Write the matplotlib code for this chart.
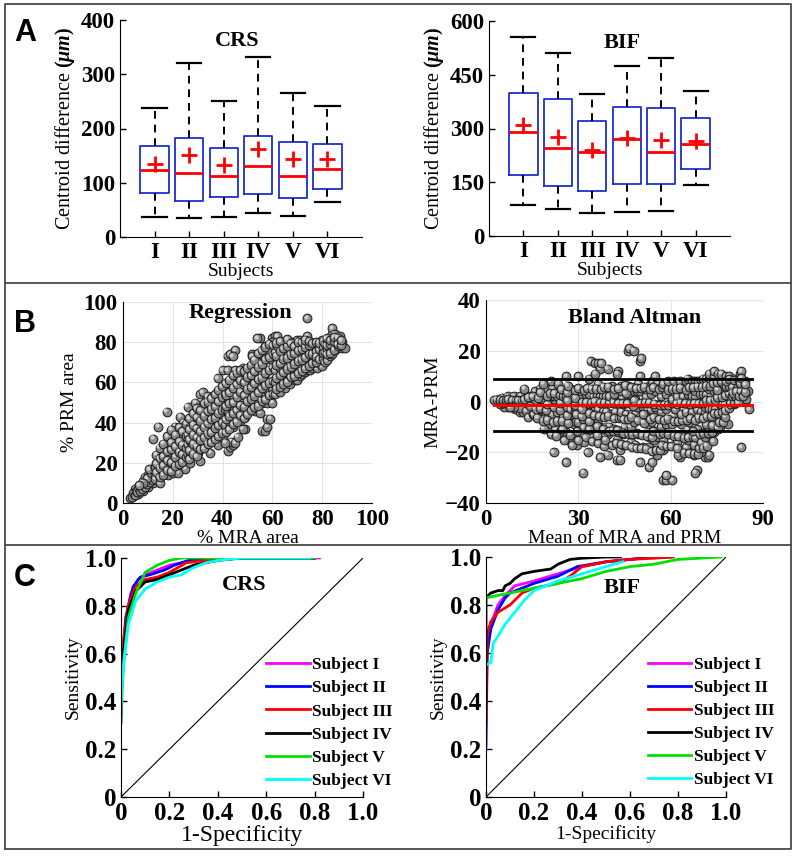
import numpy as np
import matplotlib
matplotlib.use("Agg")
import matplotlib.pyplot as plt
from matplotlib.lines import Line2D
from matplotlib.transforms import offset_copy

plt.rcParams["font.family"] = "serif"
plt.rcParams["font.serif"] = ["Liberation Serif"]
plt.rcParams["mathtext.fontset"] = "custom"
plt.rcParams["mathtext.it"] = "Liberation Serif:italic:bold"
plt.rcParams["mathtext.rm"] = "Liberation Serif:bold"

# ---- panel A: centroid difference box plots ----
subjects = ["I", "II", "III", "IV", "V", "VI"]
crs_whislo = [37, 35, 36, 44, 38, 65]
crs_q1 = [81, 67, 73, 79, 71, 89]
crs_med = [123, 118, 112, 130, 113, 126]
crs_q3 = [167, 182, 164, 186, 175, 171]
crs_whishi = [238, 321, 250, 332, 266, 241]
crs_mean = [135, 152, 133, 162, 143, 143]

bif_whislo = [86, 76, 65, 66, 69, 141]
bif_q1 = [170, 140, 126, 145, 144, 186]
bif_med = [290, 245, 235, 270, 235, 256]
bif_q3 = [399, 383, 322, 361, 358, 328]
bif_whishi = [554, 511, 396, 474, 497, 404]
bif_mean = [309, 277, 240, 274, 268, 266]

# ---- panel B: % MRA area vs % PRM area (one pair per vessel slice) ----
mra_prm_pairs = [
    (3.5, 3), (4, 4), (4, 3.5), (4.5, 5), (5, 4), (5, 6), (5.5, 5), (6, 6), (6, 5),
    (6.5, 7), (7, 7), (7, 6), (7.5, 8), (8, 8), (8, 7), (8.5, 9), (9, 10), (9, 8),
    (9.5, 9), (10, 11), (10, 9), (10.5, 12), (11, 11), (11, 10), (11.5, 13), (12, 12),
    (12, 11), (12.5, 14), (6, 8), (8, 11), (9, 13), (10, 14), (11, 16), (7, 9), (5, 7),
    (12, 16), (3, 2.5), (4, 5), (6, 4.5), (8, 6), (10, 8), (12, 10),
    (3.8, 3.1), (4.3, 4.6), (4.9, 4.2), (5.2, 5.8), (5.8, 5.3), (6.3, 6.9), (6.8, 6.1),
    (7.3, 7.8), (7.7, 6.9), (8.2, 9.1), (8.7, 8.2), (9.2, 10.6), (9.8, 9.4), (10.3, 11.5),
    (10.8, 10.2), (11.3, 12.7), (11.8, 11.4), (12.3, 13.6), (9.6, 12.3), (11.1, 14.8),
    (7.9, 10.1), (10.6, 16.8), (12.8, 17.9), (6.6, 8.9),
    (12, 32), (13, 14), (13, 18), (13, 12), (14, 15), (14, 20), (14, 38), (15, 13),
    (15, 17), (15, 22), (16, 16), (16, 19), (16, 25), (17, 15), (17, 20), (17, 28),
    (17.5, 45.5), (18, 17), (18, 22), (18, 30), (19, 18), (19, 24), (19, 34), (20, 17),
    (20, 21), (20, 27), (20, 32), (21, 19), (21, 25), (21, 30), (21, 38), (22, 20),
    (22, 23), (22, 28), (22, 35), (23, 21), (23, 26), (23, 31), (23, 43), (24, 22),
    (24, 27), (24, 33), (24, 40), (25, 21), (25, 25), (25, 30), (25, 37), (15, 10),
    (18, 14), (20, 15), (22, 17), (24, 19), (25, 17), (22, 15),
    (13.4, 15.2), (13.4, 19.8), (13.4, 24.1), (14.7, 12.9), (14.7, 17.6), (14.7, 22.3),
    (14.7, 27.5), (16.2, 14.1), (16.2, 18.8), (16.2, 23.4), (16.2, 29.6), (17.8, 16.3),
    (17.8, 21.2), (17.8, 25.9), (17.8, 33.1), (19.3, 15.7), (19.3, 20.4), (19.3, 26.8),
    (19.3, 30.2), (19.3, 36.5), (20.9, 18.6), (20.9, 23.1), (20.9, 28.4), (20.9, 34.0),
    (22.4, 19.2), (22.4, 25.6), (22.4, 30.8), (22.4, 37.7), (23.8, 20.5), (23.8, 24.3),
    (23.8, 29.1), (23.8, 35.6), (25.3, 22.8), (25.3, 27.4), (25.3, 33.2), (25.3, 39.4),
    (26, 24), (26, 29), (26, 34), (26, 48), (27, 25), (27, 31), (27, 38), (27, 20),
    (28, 26), (28, 30), (28, 35), (28, 42), (29, 27), (29, 33), (29, 39), (29, 50),
    (30, 25), (30, 29), (30, 34), (30, 40), (30, 45), (31, 21), (31, 28), (31, 33),
    (31, 38), (31, 54), (32, 30), (32, 36), (32, 42), (32, 55), (33, 29), (33, 34),
    (33, 40), (33, 46), (34, 31), (34, 37), (34, 44), (34, 53), (35, 25), (35, 32),
    (35, 38), (35, 45), (35, 50), (36, 34), (36, 40), (36, 47), (36, 53), (37, 35),
    (37, 41), (37, 49), (38, 29), (38, 36), (38, 43), (38, 51), (38, 62), (39, 37),
    (39, 45), (39, 55), (40, 33), (40, 38), (40, 44), (40, 50), (40, 57), (40, 66),
    (26.7, 21.9), (26.7, 26.2), (26.7, 31.7), (26.7, 36.8), (26.7, 42.3), (28.2, 24.6),
    (28.2, 29.5), (28.2, 33.9), (28.2, 39.0), (28.2, 44.6), (29.6, 23.4), (29.6, 28.1),
    (29.6, 32.6), (29.6, 37.3), (29.6, 42.8), (29.6, 47.2), (31.1, 26.7), (31.1, 31.4),
    (31.1, 35.8), (31.1, 40.9), (31.1, 46.1), (32.5, 27.3), (32.5, 32.8), (32.5, 37.9),
    (32.5, 43.5), (32.5, 49.6), (34.0, 29.6), (34.0, 34.5), (34.0, 39.7), (34.0, 45.8),
    (34.0, 50.4), (35.4, 30.1), (35.4, 35.2), (35.4, 41.6), (35.4, 46.9), (35.4, 52.2),
    (36.9, 31.8), (36.9, 37.4), (36.9, 42.5), (36.9, 48.3), (36.9, 54.0), (38.3, 33.2),
    (38.3, 38.7), (38.3, 44.9), (38.3, 50.6), (38.3, 56.3), (39.8, 34.9), (39.8, 40.2),
    (39.8, 46.4), (39.8, 52.8), (39.8, 58.1),
    (42, 26), (43, 28), (44, 29), (43.5, 30.5), (49, 37), (45, 30), (46, 33), (48, 37),
    (41, 30), (56, 36), (57, 36), (58, 38), (58, 42), (59, 42),
    (42, 73), (43, 74), (45, 76), (44, 73), (42, 66), (52, 74), (55, 82), (54, 82),
    (60, 82), (61, 83), (62, 83), (74, 92),
    (41, 39), (41, 47), (41, 54), (42, 41.5), (42, 46), (42, 52), (42, 60), (43, 40),
    (43, 48), (43, 56), (44, 38), (44, 45), (44, 52), (44, 62), (45, 43.5), (45, 50),
    (45, 58), (45, 66), (46, 42), (46, 51), (46, 60), (47, 41), (47, 46), (47, 53),
    (47, 62), (48, 45), (48, 50), (48, 57), (48, 67), (49, 43), (49, 48), (49, 55),
    (49, 63), (50, 46), (50, 52), (50, 58), (50, 65), (51, 47), (51, 54), (51, 61),
    (52, 48), (52, 55), (52, 62), (52, 73), (53, 46), (53, 51), (53, 58), (53, 66),
    (54, 49), (54, 56), (54, 63), (54, 70), (55, 45), (55, 52), (55, 59), (55, 68),
    (56, 50), (56, 57), (56, 65), (56, 74), (57, 53), (57, 60), (57, 70), (57, 78),
    (58, 50), (58, 56), (58, 64), (58, 73), (59, 52), (59, 60), (59, 68), (59, 76),
    (60, 50), (60, 57), (60, 63), (60, 71), (60, 80),
    (41.2, 35.3), (41.2, 41.7), (41.2, 48.2), (41.2, 53.9), (41.2, 59.5), (42.7, 36.8),
    (42.7, 43.4), (42.7, 49.6), (42.7, 55.2), (42.7, 61.3), (44.1, 39.2), (44.1, 44.7),
    (44.1, 50.1), (44.1, 57.4), (44.1, 63.6), (45.6, 40.4), (45.6, 46.3), (45.6, 52.9),
    (45.6, 59.0), (45.6, 64.8), (47.0, 43.8), (47.0, 48.7), (47.0, 55.4), (47.0, 61.1),
    (47.0, 66.2), (48.5, 42.1), (48.5, 47.9), (48.5, 53.6), (48.5, 60.2), (48.5, 65.7),
    (49.9, 44.3), (49.9, 50.6), (49.9, 56.8), (49.9, 62.9), (49.9, 67.4), (51.4, 46.2),
    (51.4, 51.8), (51.4, 57.5), (51.4, 63.7), (51.4, 68.9), (52.8, 47.6), (52.8, 53.3),
    (52.8, 59.7), (52.8, 65.5), (52.8, 71.2), (54.3, 48.4), (54.3, 55.1), (54.3, 61.6),
    (54.3, 67.8), (54.3, 74.5), (55.7, 50.9), (55.7, 57.2), (55.7, 62.4), (55.7, 69.3),
    (55.7, 76.1), (57.2, 51.6), (57.2, 58.5), (57.2, 64.9), (57.2, 71.4), (57.2, 77.8),
    (58.6, 53.7), (58.6, 59.8), (58.6, 66.3), (58.6, 72.6), (58.6, 79.2), (60.1, 54.2),
    (60.1, 60.7), (60.1, 67.5), (60.1, 74.1), (60.1, 78.6),
    (61, 54), (61, 60), (61, 66), (61, 75), (62, 56.5), (62, 62), (62, 70), (62, 78),
    (63, 55), (63, 61), (63, 67), (63, 74), (64, 58.5), (64, 64), (64, 70), (64, 78),
    (65, 57), (65, 63), (65, 69), (65, 77), (66, 60.5), (66, 65), (66, 72), (66, 79),
    (67, 59), (67, 64), (67, 70), (67, 76), (68, 62.5), (68, 66), (68, 72), (68, 80),
    (69, 61), (69, 67), (69, 73), (70, 61), (70, 66), (70, 72), (70, 78), (70, 81),
    (71, 63), (71, 68), (71, 74), (71, 81), (72, 64), (72, 69), (72, 75), (73, 65),
    (73, 70), (73, 76), (74, 66), (74, 72), (74, 78), (74, 83), (75, 66), (75, 70),
    (75, 75), (76, 67), (76, 72), (76, 77), (77, 68), (77, 73), (77, 78), (78, 67),
    (78, 71), (78, 76), (79, 69), (79, 74), (79, 80), (80, 68), (80, 72), (80, 77),
    (80, 81),
    (61.5, 56.8), (61.5, 62.3), (61.5, 68.9), (61.5, 73.2), (61.5, 79.7), (63.0, 57.9),
    (63.0, 63.5), (63.0, 69.6), (63.0, 75.8), (63.0, 80.4), (64.4, 59.3), (64.4, 65.1),
    (64.4, 71.7), (64.4, 76.9), (65.9, 60.4), (65.9, 66.8), (65.9, 72.3), (65.9, 78.2),
    (65.9, 81.6), (67.3, 62.7), (67.3, 67.9), (67.3, 73.8), (67.3, 79.5), (68.8, 63.1),
    (68.8, 69.4), (68.8, 74.6), (68.8, 78.1), (70.2, 64.6), (70.2, 70.8), (70.2, 75.9),
    (70.2, 80.3), (71.7, 65.8), (71.7, 71.2), (71.7, 76.4), (71.7, 79.9), (73.1, 67.2),
    (73.1, 72.6), (73.1, 77.7), (73.1, 81.2), (74.6, 68.4), (74.6, 73.9), (74.6, 78.8),
    (74.6, 80.6), (76.0, 69.7), (76.0, 74.3), (76.0, 79.4), (77.5, 70.2), (77.5, 75.6),
    (77.5, 80.1), (77.5, 72.8), (78.9, 71.4), (78.9, 76.5), (78.9, 79.8), (80.4, 72.3),
    (80.4, 77.2), (80.4, 80.8), (80.4, 74.6),
    (81, 70), (81, 75), (81, 79), (82, 71), (82, 76), (82, 80), (83, 73), (83, 77),
    (83, 82), (84, 74), (84, 79), (84, 84), (84, 87), (85, 76), (85, 80), (85, 84),
    (86, 77), (86, 81), (87, 78), (87, 83), (88, 77), (88, 80), (89, 77),
    (81.8, 73.9), (81.8, 78.4), (81.8, 82.1), (83.3, 74.5), (83.3, 79.3), (83.3, 81.0),
    (84.7, 76.2), (84.7, 80.7), (84.7, 82.6), (86.2, 77.9), (86.2, 82.3), (86.2, 79.1),
    (87.6, 78.4), (87.6, 80.9),
]
mra_area = np.array([p[0] for p in mra_prm_pairs])
prm_area = np.array([p[1] for p in mra_prm_pairs])
ba_mean = (mra_area + prm_area) / 2
ba_diff = mra_area - prm_area
mean_bias = -1.5
upper_loa = 8.8
lower_loa = -11.6
ba_line_span = [2.5, 86.5]

# ---- panel C: ROC curves ----
legend_labels = ["Subject I", "Subject II", "Subject III", "Subject IV", "Subject V", "Subject VI"]
roc_colors = ["#ff00ff", "#0000ff", "#ff0000", "#000000", "#00e000", "#00ffff"]

crs_fpr = [
    [0, 0.005, 0.02, 0.04, 0.07, 0.1, 0.15, 0.2, 0.25, 0.3, 0.4, 0.82],
    [0, 0.005, 0.02, 0.05, 0.08, 0.12, 0.18, 0.22, 0.28, 0.4, 0.8],
    [0, 0.01, 0.03, 0.06, 0.1, 0.15, 0.2, 0.27, 0.35, 0.5, 0.8],
    [0, 0.01, 0.03, 0.06, 0.1, 0.15, 0.2, 0.25, 0.3, 0.4, 0.5, 0.8],
    [0, 0.01, 0.03, 0.06, 0.1, 0.15, 0.2, 0.25, 0.8],
    [0, 0.01, 0.03, 0.06, 0.1, 0.15, 0.2, 0.25, 0.3, 0.35, 0.4, 0.5, 0.78],
]
crs_tpr = [
    [0.4, 0.6, 0.75, 0.85, 0.91, 0.93, 0.95, 0.97, 0.98, 0.99, 1.0, 1.0],
    [0.31, 0.55, 0.75, 0.88, 0.92, 0.93, 0.95, 0.97, 0.99, 1.0, 1.0],
    [0.4, 0.65, 0.8, 0.88, 0.91, 0.92, 0.94, 0.98, 0.99, 1.0, 1.0],
    [0.45, 0.6, 0.78, 0.86, 0.9, 0.91, 0.93, 0.95, 0.97, 0.99, 1.0, 1.0],
    [0.35, 0.55, 0.75, 0.85, 0.94, 0.97, 0.99, 1.0, 1.0],
    [0.4, 0.55, 0.72, 0.82, 0.87, 0.9, 0.92, 0.93, 0.96, 0.98, 0.99, 1.0, 1.0],
]
bif_fpr = [
    [0, 0.005, 0.02, 0.05, 0.08, 0.12, 0.2, 0.3, 0.4, 0.5, 0.6, 0.7, 0.75],
    [0, 0.005, 0.02, 0.05, 0.08, 0.1, 0.15, 0.2, 0.3, 0.38, 0.5, 0.6, 0.7, 0.77],
    [0, 0.005, 0.02, 0.05, 0.1, 0.15, 0.2, 0.3, 0.35, 0.4, 0.5, 0.6, 0.7, 0.78],
    [0, 0, 0.01, 0.02, 0.05, 0.07, 0.08, 0.1, 0.12, 0.15, 0.2, 0.27, 0.3, 0.35, 0.4, 0.5, 0.56],
    [0, 0.05, 0.1, 0.2, 0.3, 0.4, 0.5, 0.6, 0.7, 0.8, 0.98],
    [0, 0.02, 0.03, 0.05, 0.08, 0.12, 0.16, 0.2, 0.3, 0.4, 0.5, 0.57],
]
bif_tpr = [
    [0.4, 0.65, 0.72, 0.8, 0.84, 0.88, 0.9, 0.93, 0.96, 0.98, 0.99, 1.0, 1.0],
    [0.21, 0.6, 0.7, 0.78, 0.83, 0.85, 0.87, 0.89, 0.92, 0.96, 0.98, 0.99, 1.0, 1.0],
    [0.3, 0.68, 0.73, 0.77, 0.8, 0.85, 0.87, 0.89, 0.92, 0.96, 0.98, 0.99, 0.995, 1.0],
    [0.4, 0.83, 0.84, 0.85, 0.86, 0.86, 0.88, 0.89, 0.91, 0.93, 0.94, 0.95, 0.97, 0.99, 0.995, 1.0, 1.0],
    [0.83, 0.84, 0.85, 0.87, 0.89, 0.91, 0.94, 0.96, 0.97, 0.99, 1.0],
    [0.55, 0.56, 0.64, 0.67, 0.72, 0.77, 0.82, 0.86, 0.9, 0.93, 0.96, 0.98],
]

W, H = 800, 857
fig = plt.figure(figsize=(W / 100, H / 100), dpi=100)


def px_axes(x0, x1, ytop, ybot):
    return fig.add_axes([x0 / W, 1 - ybot / H, (x1 - x0) / W, (ybot - ytop) / H])


def clean(ax, size):
    ax.spines["top"].set_visible(False)
    ax.spines["right"].set_visible(False)
    ax.tick_params(direction="in", length=4, width=1, labelsize=size)
    for lab in ax.get_xticklabels() + ax.get_yticklabels():
        lab.set_fontweight("bold")


def boxes(ax, lo, q1, med, q3, hi, mn):
    stats = []
    for i in range(len(subjects)):
        stats.append(dict(whislo=lo[i], q1=q1[i], med=med[i], q3=q3[i],
                          whishi=hi[i], mean=mn[i], fliers=[], label=subjects[i]))
    ax.bxp(stats, positions=range(1, 7), widths=0.82, capwidths=0.7, showmeans=True,
           boxprops=dict(color="#1a2fd0", lw=1.3),
           medianprops=dict(color="#ff0000", lw=2),
           whiskerprops=dict(color="black", lw=1.4, linestyle=(0, (4, 3))),
           capprops=dict(color="black", lw=1.6),
           meanprops=dict(marker="+", markersize=11, markeredgewidth=2,
                          markeredgecolor="#ff0000"))
    ax.set_xlim(0, 7)


def balls(ax, xs, ys):
    # grey shaded spheres: dark rim plus a small light highlight, drawn one by one
    hl = offset_copy(ax.transData, fig=fig, x=-0.9, y=1.0, units="points")
    for x, y in zip(xs, ys):
        ax.plot(x, y, "o", ms=6.3, mfc="#8a8a8a", mec="#1e1e1e", mew=0.75, zorder=3)
        ax.plot(x, y, "o", ms=3.0, mfc="#cfcfcf", mec="none", transform=hl, zorder=3)


# A left
axA1 = px_axes(120, 362, 20, 237)
boxes(axA1, crs_whislo, crs_q1, crs_med, crs_q3, crs_whishi, crs_mean)
axA1.set_ylim(0, 400)
axA1.set_yticks([0, 100, 200, 300, 400])
clean(axA1, 16.5)
axA1.set_ylabel(r"Centroid difference $(\mu m)$", fontsize=14.5, labelpad=3)
axA1.set_xlabel("Subjects", fontsize=14, labelpad=0)
axA1.text(0.483, 0.905, "CRS", transform=axA1.transAxes, ha="center", va="center",
          fontsize=16, fontweight="bold")

# A right
axA2 = px_axes(489, 730, 21, 236)
boxes(axA2, bif_whislo, bif_q1, bif_med, bif_q3, bif_whishi, bif_mean)
axA2.set_ylim(0, 600)
axA2.set_yticks([0, 150, 300, 450, 600])
clean(axA2, 16.5)
axA2.set_ylabel(r"Centroid difference $(\mu m)$", fontsize=14.5, labelpad=3)
axA2.set_xlabel("Subjects", fontsize=14, labelpad=0)
axA2.text(0.552, 0.9, "BIF", transform=axA2.transAxes, ha="center", va="center",
          fontsize=16, fontweight="bold")

# B left
axB1 = px_axes(123, 372, 302, 503)
axB1.grid(True, color="#e3e3e3", lw=0.8)
axB1.set_axisbelow(True)
balls(axB1, mra_area, prm_area)
axB1.set_xlim(0, 100)
axB1.set_ylim(0, 100)
axB1.set_xticks(range(0, 101, 20))
axB1.set_yticks(range(0, 101, 20))
clean(axB1, 16.5)
axB1.tick_params(length=0, pad=4)
axB1.set_xlabel("% MRA area", fontsize=14, labelpad=0)
axB1.set_ylabel("% PRM area", fontsize=14, labelpad=4)
axB1.text(0.47, 0.945, "Regression", transform=axB1.transAxes, ha="center", va="center",
          fontsize=16, fontweight="bold", zorder=2)

# B right
axB2 = px_axes(486, 763, 300, 503)
axB2.grid(True, color="#e3e3e3", lw=0.8)
axB2.set_axisbelow(True)
balls(axB2, ba_mean, ba_diff)
axB2.plot(ba_line_span, [upper_loa] * 2, color="black", lw=2, zorder=4)
axB2.plot(ba_line_span, [lower_loa] * 2, color="black", lw=2, zorder=4)
axB2.plot(ba_line_span, [mean_bias] * 2, color="#ff0000", lw=2.2, zorder=4)
axB2.set_xlim(0, 90)
axB2.set_ylim(-40, 40)
axB2.set_xticks([0, 30, 60, 90])
axB2.set_yticks([-40, -20, 0, 20, 40])
clean(axB2, 16.5)
axB2.tick_params(length=0, pad=4)
axB2.set_xlabel("Mean of MRA and PRM", fontsize=14, labelpad=0)
axB2.set_ylabel("MRA-PRM", fontsize=14, labelpad=2)
axB2.text(0.538, 0.911, "Bland Altman", transform=axB2.transAxes, ha="center", va="center",
          fontsize=16, fontweight="bold")

# C
roc_ticks = [0, 0.2, 0.4, 0.6, 0.8, 1.0]
roc_ticklabels = ["0", "0.2", "0.4", "0.6", "0.8", "1.0"]


def roc(ax, fprs, tprs, title, tx, ty, leg_x, xl_size):
    ax.plot([0, 1], [0, 1], color="black", lw=0.8)
    for f, t, c, lab in zip(fprs, tprs, roc_colors, legend_labels):
        ax.plot(f, t, color=c, lw=2, label=lab)
    ax.set_xlim(0, 1)
    ax.set_ylim(0, 1)
    ax.set_xticks(roc_ticks, roc_ticklabels)
    ax.set_yticks(roc_ticks, roc_ticklabels)
    clean(ax, 18)
    ax.set_xlabel("1-Specificity", fontsize=xl_size, labelpad=0)
    ax.set_ylabel("Sensitivity", fontsize=14, labelpad=2)
    ax.text(tx, ty, title, transform=ax.transAxes, ha="center", va="center",
            fontsize=16, fontweight="bold")
    ax.legend(loc="upper left", bbox_to_anchor=(leg_x, 0.585), frameon=False,
              prop=dict(weight="bold", size=12.5), handlelength=2.5,
              handletextpad=0.15, labelspacing=0.4, borderpad=0, borderaxespad=0)


axC1 = px_axes(121, 363, 558, 797)
roc(axC1, crs_fpr, crs_tpr, "CRS", 0.508, 0.887, 0.6, 17)
axC2 = px_axes(486, 726, 557, 797)
roc(axC2, bif_fpr, bif_tpr, "BIF", 0.567, 0.871, 0.675, 14)

# panel letters
for letter, yy in [("A", 33), ("B", 324), ("C", 578)]:
    fig.text(14 / W, 1 - yy / H, letter, fontsize=22, fontweight="bold",
             family="Liberation Sans", va="center", ha="left")

# frame and row separators
frame_kw = dict(color="#4a4a4a", lw=1.3, transform=fig.transFigure)
x0, x1, y0, y1 = 5 / W, 791 / W, 1 - 849 / H, 1 - 4 / H
fig.add_artist(Line2D([x0, x1, x1, x0, x0], [y0, y0, y1, y1, y0], **frame_kw))
for yy in [283, 545]:
    fig.add_artist(Line2D([x0, x1], [1 - yy / H] * 2, **frame_kw))

fig.savefig("out.png", dpi=100)
